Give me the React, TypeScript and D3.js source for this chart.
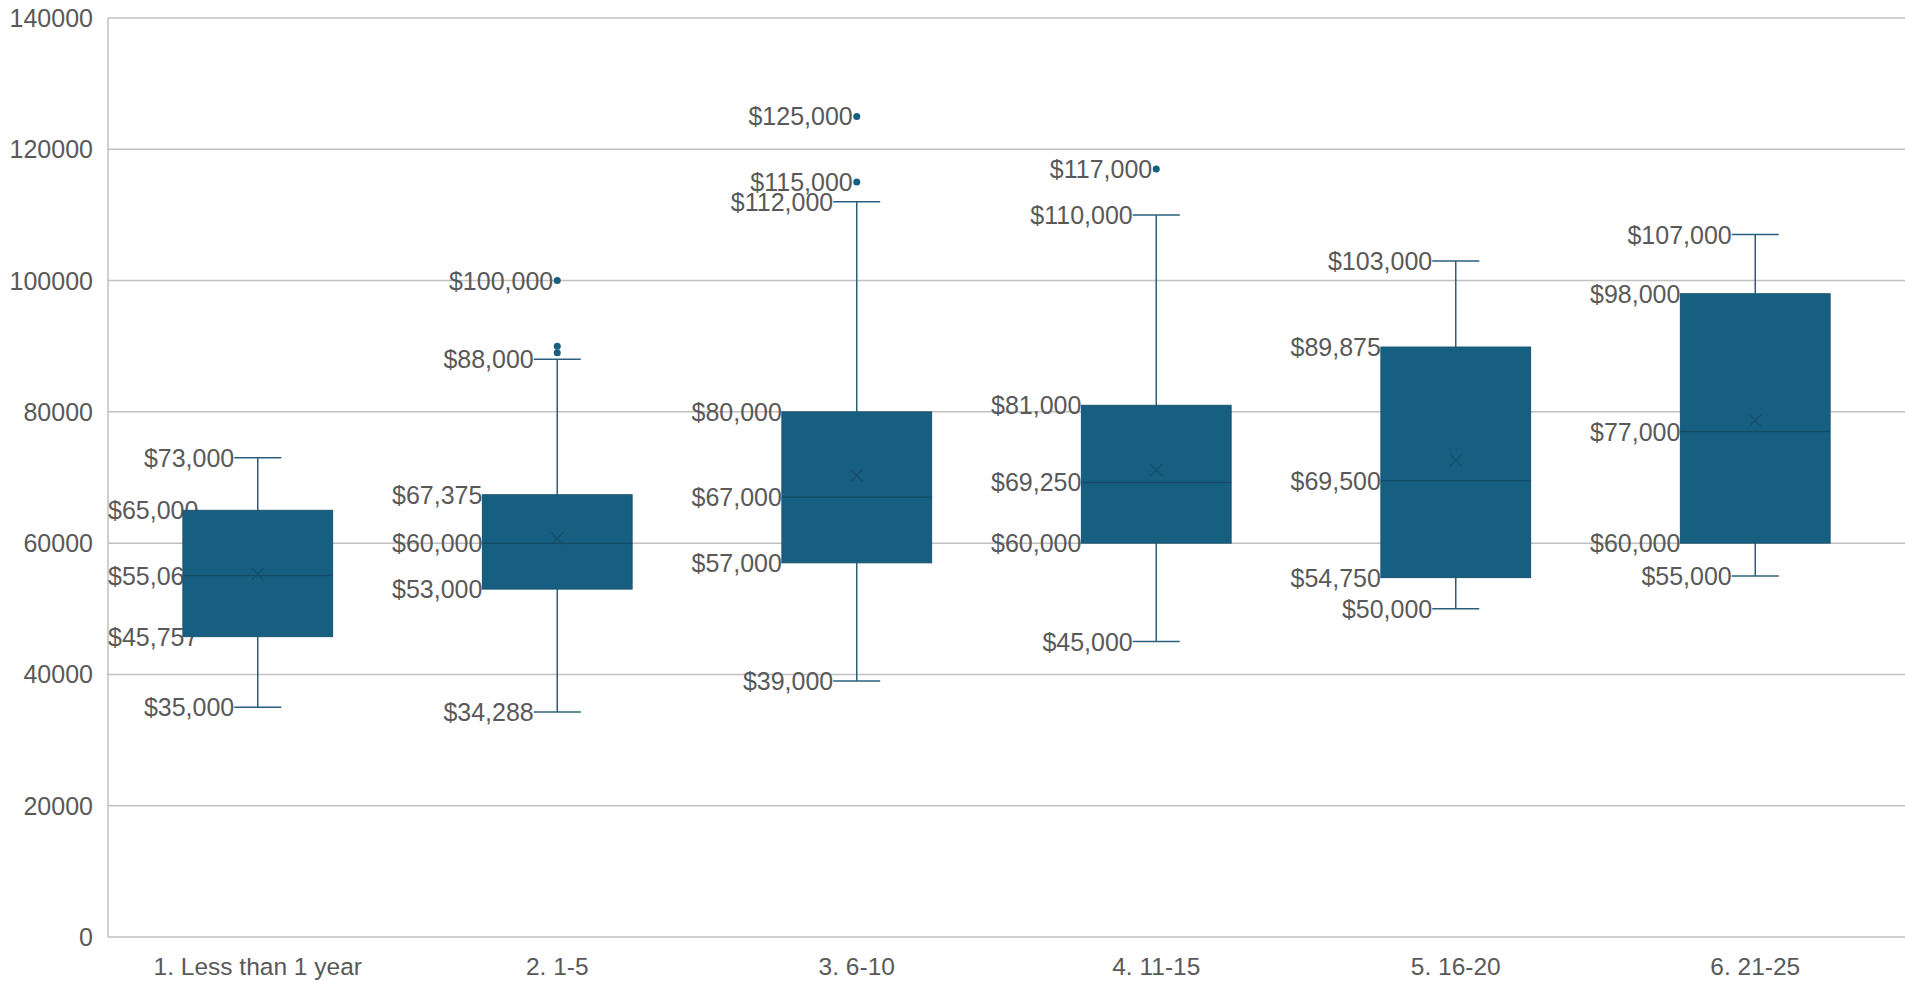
import React, { useEffect, useRef } from 'react';
import * as d3 from 'd3';

const width = 1905;
const height = 981;

const categories = ['1. Less than 1 year', '2. 1-5', '3. 6-10', '4. 11-15', '5. 16-20', '6. 21-25'];
const mins = [35000, 34288, 39000, 45000, 50000, 55000];
const q1s = [45757, 53000, 57000, 60000, 54750, 60000];
const medians = [55060, 60000, 67000, 69250, 69500, 77000];
const q3s = [65000, 67375, 80000, 81000, 89875, 98000];
const maxs = [73000, 88000, 112000, 110000, 103000, 107000];
const means = [55300, 60700, 70300, 71100, 72600, 78700];
// outliers per category, and the ones that carry a label
const outliers = [[], [100000, 90000, 89000], [125000, 115000], [117000], [], []];
const labelledOutliers = [[], [100000], [125000, 115000], [117000], [], []];
const yTicks = [0, 20000, 40000, 60000, 80000, 100000, 120000, 140000];

const fill = '#175f80';
const edge = '#1b5471';
const whisker = '#2a5f7b';
const grid = '#c0c0c0';
const textColor = '#595959';
const font = '"Liberation Sans", Arial, sans-serif';

export default function App() {
  const ref = useRef<SVGSVGElement>(null);

  useEffect(() => {
    const margin = { top: 18, right: 0, bottom: 44, left: 108 };
    const svg = d3.select(ref.current);
    svg.selectAll('*').remove();

    const x = d3
      .scaleBand()
      .domain(categories)
      .range([margin.left, width - margin.right]);
    const y = d3
      .scaleLinear()
      .domain([0, 140000])
      .range([height - margin.bottom, margin.top]);

    const fmt = (v: number) => '$' + d3.format(',')(v);

    // gridlines + left axis line
    svg
      .append('g')
      .selectAll('line')
      .data(yTicks)
      .join('line')
      .attr('x1', margin.left)
      .attr('x2', width)
      .attr('y1', (d) => y(d))
      .attr('y2', (d) => y(d))
      .attr('stroke', grid)
      .attr('stroke-width', 1.5);
    svg
      .append('line')
      .attr('x1', margin.left)
      .attr('x2', margin.left)
      .attr('y1', y(140000))
      .attr('y2', y(0))
      .attr('stroke', grid)
      .attr('stroke-width', 1.5);

    svg
      .append('g')
      .selectAll('text')
      .data(yTicks)
      .join('text')
      .attr('x', margin.left - 15)
      .attr('y', (d) => y(d))
      .attr('dy', '0.36em')
      .attr('text-anchor', 'end')
      .attr('font-family', font)
      .attr('font-size', 25)
      .attr('fill', textColor)
      .text((d) => d);

    svg
      .append('g')
      .selectAll('text')
      .data(categories)
      .join('text')
      .attr('x', (d) => x(d)! + x.bandwidth() / 2)
      .attr('y', y(0) + 29)
      .attr('dy', '0.36em')
      .attr('text-anchor', 'middle')
      .attr('font-family', '"Liberation Sans Narrow", "Arial Narrow", sans-serif')
      .attr('font-size', 24.5)
      .attr('fill', textColor)
      .text((d) => d);

    const boxW = x.bandwidth() * 0.5;
    const capW = 47;
    const labels = svg.append('g');

    const addLabel = (xEnd: number, v: number) => {
      const t = labels
        .append('text')
        .attr('x', xEnd)
        .attr('y', y(v))
        .attr('dy', '0.36em')
        .attr('text-anchor', 'end')
        .attr('font-family', font)
        .attr('font-size', 25)
        .attr('fill', textColor)
        .text(fmt(v));
      const w = (t.node() as SVGTextElement).getComputedTextLength();
      // keep labels inside the plot area, like the original does
      if (xEnd - w < margin.left) {
        t.attr('text-anchor', 'start').attr('x', margin.left);
      }
    };

    categories.forEach((c, i) => {
      const cx = x(c)! + x.bandwidth() / 2;
      const g = svg.append('g');
      // whiskers
      g.append('line')
        .attr('x1', cx).attr('x2', cx)
        .attr('y1', y(maxs[i])).attr('y2', y(q3s[i]))
        .attr('stroke', whisker).attr('stroke-width', 1.5);
      g.append('line')
        .attr('x1', cx).attr('x2', cx)
        .attr('y1', y(q1s[i])).attr('y2', y(mins[i]))
        .attr('stroke', whisker).attr('stroke-width', 1.5);
      [maxs[i], mins[i]].forEach((v) => {
        g.append('line')
          .attr('x1', cx - capW / 2).attr('x2', cx + capW / 2)
          .attr('y1', y(v)).attr('y2', y(v))
          .attr('stroke', whisker).attr('stroke-width', 1.5);
      });
      // box
      g.append('rect')
        .attr('x', cx - boxW / 2)
        .attr('y', y(q3s[i]))
        .attr('width', boxW)
        .attr('height', y(q1s[i]) - y(q3s[i]))
        .attr('fill', fill)
        .attr('stroke', edge)
        .attr('stroke-width', 1);
      g.append('line')
        .attr('x1', cx - boxW / 2).attr('x2', cx + boxW / 2)
        .attr('y1', y(medians[i])).attr('y2', y(medians[i]))
        .attr('stroke', '#134c68').attr('stroke-width', 1.5);
      // mean marker
      const my = y(means[i]);
      const s = 6;
      g.append('path')
        .attr('d', `M${cx - s},${my - s}L${cx + s},${my + s}M${cx - s},${my + s}L${cx + s},${my - s}`)
        .attr('stroke', '#154e6a').attr('stroke-width', 1.2).attr('fill', 'none');
      // outliers
      g.selectAll('circle')
        .data(outliers[i])
        .join('circle')
        .attr('cx', cx)
        .attr('cy', (d) => y(d))
        .attr('r', 3.5)
        .attr('fill', fill);

      // data labels
      addLabel(cx - capW / 2, maxs[i]);
      addLabel(cx - capW / 2, mins[i]);
      addLabel(cx - boxW / 2, q3s[i]);
      addLabel(cx - boxW / 2, medians[i]);
      addLabel(cx - boxW / 2, q1s[i]);
      labelledOutliers[i].forEach((v) => addLabel(cx - 4, v));
    });
  }, []);

  return (
    <svg
      ref={ref}
      width={width}
      height={height}
      style={{ position: 'fixed', left: 0, top: 0, background: '#fff' }}
    />
  );
}
